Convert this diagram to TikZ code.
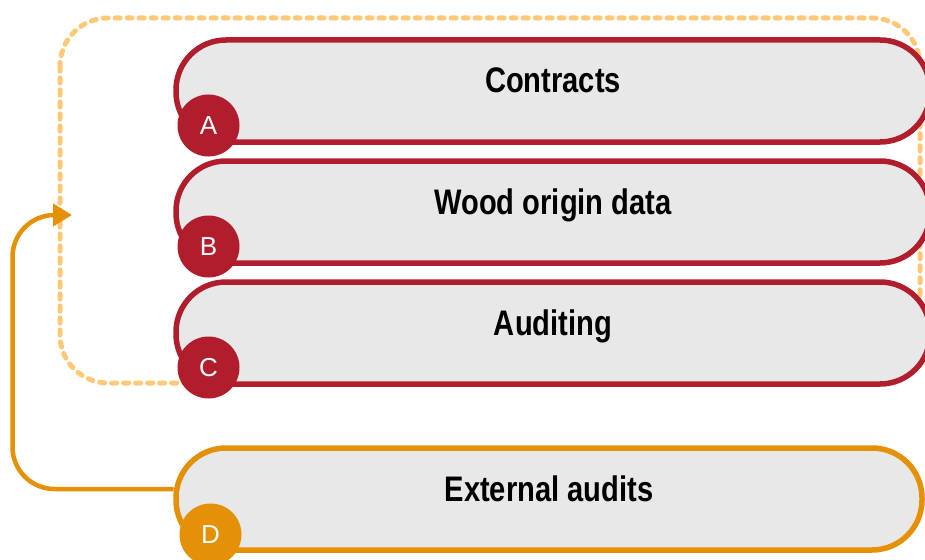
\documentclass[tikz,border=0pt]{standalone}
\usepackage{fontspec}
\newfontfamily\labelfont[FakeStretch=0.82]{Liberation Sans}
\newfontfamily\badgefont{Liberation Sans}
\usepackage{tikz}
\usetikzlibrary{positioning, arrows.meta}
\definecolor{wine}{RGB}{176,30,46}
\definecolor{amber}{RGB}{229,145,8}
\definecolor{peach}{RGB}{255,200,118}
\definecolor{panel}{RGB}{232,232,232}

\begin{document}
\begin{tikzpicture}[x=1pt, y=-1pt, node distance=14pt,
    stage/.style={draw=wine, line width=5.5pt, fill=panel, rounded corners=50pt,
      minimum width=754pt, minimum height=102pt, inner sep=0pt, outer sep=2.5pt,
      text height=24pt, text depth=20pt,
      font=\labelfont\bfseries\fontsize{35.5}{40}\selectfont},
    badge/.style={circle, fill=wine, minimum size=62pt, inner sep=0pt,
      text=white, font=\badgefont\fontsize{26}{30}\selectfont},
    cycle/.style={draw=peach, line width=5pt, line cap=round,
      dash pattern=on 5pt off 7pt, rounded corners=48pt},
    feedback/.style={draw=amber, line width=4.5pt, rounded corners=42pt,
      -{Triangle[length=19pt, width=22pt]}}]
  \useasboundingbox (0,0) rectangle (925,559);

  % dashed loop behind the three red stages
  \draw[cycle] (60,18) rectangle (920,383);

  \node[stage]                     (boxa) at (553,91) {Contracts};
  \node[stage, below=of boxa]      (boxb) {Wood origin data};
  \node[stage, below=of boxb]      (boxc) {Auditing};
  \node[stage, draw=amber, minimum width=746pt, below=59pt of boxc, xshift=-4pt] (boxd) {External audits};

  \node[badge] (cira) at ([xshift=35pt, yshift=19pt]boxa.south west) {A};
  \node[badge] (cirb) at ([xshift=35pt, yshift=19pt]boxb.south west) {B};
  \node[badge] (circ) at ([xshift=35pt, yshift=19pt]boxc.south west) {C};
  \node[badge, fill=amber] (cird) at ([xshift=37pt, yshift=18pt]boxd.south west) {D};

  \coordinate (loopin) at (72,215);
  \draw[feedback] ([yshift=10pt]boxd.west) -- ++(-161pt,0) |- (loopin);
\end{tikzpicture}
\end{document}
